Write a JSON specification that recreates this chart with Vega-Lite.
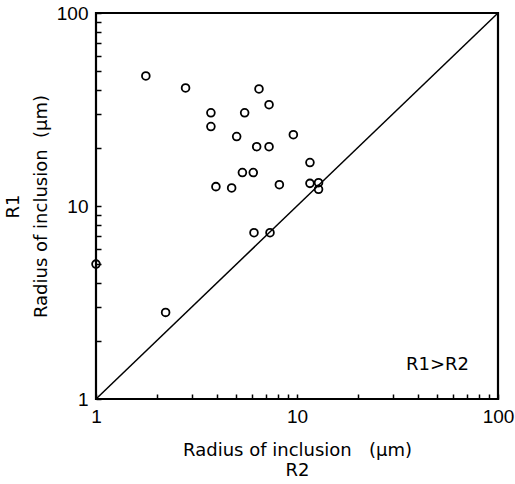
{
  "$schema": "https://vega.github.io/schema/vega-lite/v6.json",
  "width": 402,
  "height": 386,
  "autosize": "none",
  "padding": {"left": 96, "top": 13, "right": 17, "bottom": 85},
  "background": "white",
  "config": {
    "font": "Liberation Sans",
    "view": {"stroke": "black", "strokeWidth": 2.2},
    "axis": {
      "grid": false,
      "zindex": 1,
      "domain": false,
      "ticks": true,
      "tickColor": "black",
      "tickWidth": 1.5,
      "tickSize": 5,
      "offset": -5,
      "labelColor": "black",
      "labelFont": "Liberation Sans",
      "labelFontSize": 19,
      "labelOverlap": false,
      "labelFlush": false,
      "titleColor": "black",
      "titleFont": "DejaVu Sans",
      "titleFontSize": 18,
      "titleFontWeight": "normal"
    }
  },
  "datasets": {
    "xminor": [{"r2": 2}, {"r2": 3}, {"r2": 4}, {"r2": 5}, {"r2": 6}, {"r2": 7}, {"r2": 8}, {"r2": 9}, {"r2": 20}, {"r2": 30}, {"r2": 40}, {"r2": 50}, {"r2": 60}, {"r2": 70}, {"r2": 80}, {"r2": 90}],
    "xmajor": [{"r2": 10}],
    "yminor": [{"r1": 2}, {"r1": 3}, {"r1": 4}, {"r1": 5}, {"r1": 6}, {"r1": 7}, {"r1": 8}, {"r1": 9}, {"r1": 20}, {"r1": 30}, {"r1": 40}, {"r1": 50}, {"r1": 60}, {"r1": 70}, {"r1": 80}, {"r1": 90}],
    "ymajor": [{"r1": 10}]
  },
  "encoding": {
    "x": {
      "field": "r2",
      "type": "quantitative",
      "scale": {"type": "log", "domain": [1, 100], "nice": false},
      "axis": {
        "values": [1, 2, 3, 4, 5, 6, 7, 8, 9, 10, 20, 30, 40, 50, 60, 70, 80, 90, 100],
        "format": "d",
        "labelExpr": "datum.value == 1 || datum.value == 10 || datum.value == 100 ? datum.label : ''",
        "labelPadding": 8,
        "title": ["Radius of inclusion\u00a0\u00a0\u00a0(μm)", "R2"],
        "titleLineHeight": 20,
        "titlePadding": 15
      }
    },
    "y": {
      "field": "r1",
      "type": "quantitative",
      "scale": {"type": "log", "domain": [1, 100], "nice": false},
      "axis": {
        "values": [1, 2, 3, 4, 5, 6, 7, 8, 9, 10, 20, 30, 40, 50, 60, 70, 80, 90, 100],
        "format": "d",
        "labelExpr": "datum.value == 1 || datum.value == 10 || datum.value == 100 ? datum.label : ''",
        "labelPadding": 8,
        "title": ["R1", "Radius of inclusion\u00a0\u00a0(μm)"],
        "titleLineHeight": 28,
        "titlePadding": 6
      }
    }
  },
  "layer": [
    {
      "data": {"name": "xminor"},
      "mark": {"type": "tick", "orient": "vertical", "size": 5, "thickness": 1.5, "color": "black", "opacity": 1, "yOffset": -2.5},
      "encoding": {"y": {"datum": 1, "type": "quantitative"}}
    },
    {
      "data": {"name": "xmajor"},
      "mark": {"type": "tick", "orient": "vertical", "size": 8, "thickness": 1.5, "color": "black", "opacity": 1, "yOffset": -4},
      "encoding": {"y": {"datum": 1, "type": "quantitative"}}
    },
    {
      "data": {"name": "yminor"},
      "mark": {"type": "tick", "orient": "horizontal", "size": 5, "thickness": 1.5, "color": "black", "opacity": 1, "xOffset": 2.5},
      "encoding": {"x": {"datum": 1, "type": "quantitative"}}
    },
    {
      "data": {"name": "ymajor"},
      "mark": {"type": "tick", "orient": "horizontal", "size": 8, "thickness": 1.5, "color": "black", "opacity": 1, "xOffset": 4},
      "encoding": {"x": {"datum": 1, "type": "quantitative"}}
    },
    {
      "data": {"values": [{"r2": 1, "r1": 1}, {"r2": 100, "r1": 100}]},
      "mark": {"type": "line", "color": "black", "strokeWidth": 1.5}
    },
    {
      "data": {"values": [
        {"r2": 1.0, "r1": 5.0},
        {"r2": 2.22, "r1": 2.81},
        {"r2": 1.77, "r1": 47.2},
        {"r2": 2.79, "r1": 40.9},
        {"r2": 3.73, "r1": 30.4},
        {"r2": 3.73, "r1": 25.8},
        {"r2": 5.49, "r1": 30.4},
        {"r2": 5.01, "r1": 22.9},
        {"r2": 6.3, "r1": 20.3},
        {"r2": 5.35, "r1": 14.9},
        {"r2": 6.06, "r1": 14.9},
        {"r2": 3.95, "r1": 12.6},
        {"r2": 4.73, "r1": 12.4},
        {"r2": 6.47, "r1": 40.4},
        {"r2": 6.11, "r1": 7.27},
        {"r2": 7.26, "r1": 33.5},
        {"r2": 9.59, "r1": 23.4},
        {"r2": 7.26, "r1": 20.3},
        {"r2": 11.6, "r1": 16.8},
        {"r2": 8.17, "r1": 12.9},
        {"r2": 11.6, "r1": 13.1},
        {"r2": 12.8, "r1": 13.2},
        {"r2": 12.8, "r1": 12.2},
        {"r2": 7.34, "r1": 7.27}
      ]},
      "mark": {"type": "point", "shape": "circle", "filled": false, "color": "black", "strokeWidth": 1.8, "size": 60, "opacity": 1}
    },
    {
      "data": {"values": [{"r2": 50, "r1": 1.5, "label": "R1>R2"}]},
      "mark": {"type": "text", "font": "DejaVu Sans", "fontSize": 18, "color": "black", "align": "center", "baseline": "middle"},
      "encoding": {"text": {"field": "label"}}
    }
  ]
}
